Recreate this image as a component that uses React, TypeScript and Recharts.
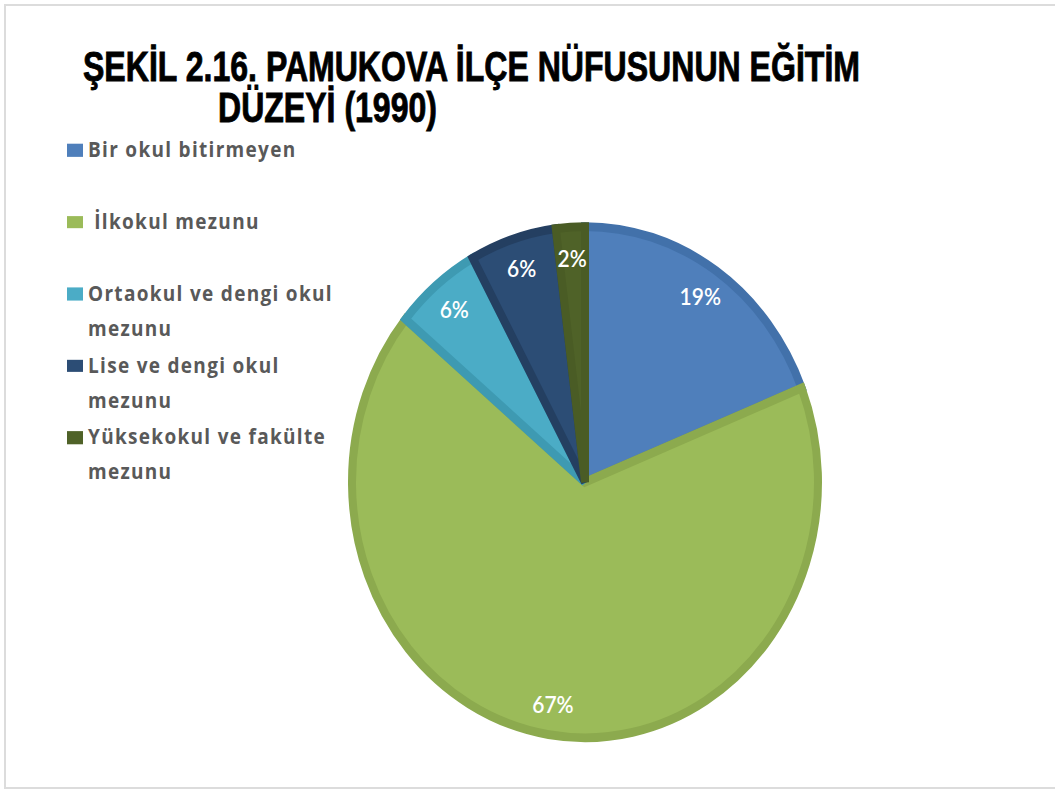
import React from 'react';
import { PieChart, Pie, Cell, Legend } from 'recharts';

const CATEGORIES = [
  'Bir okul bitirmeyen',
  ' İlkokul mezunu',
  'Ortaokul ve dengi okul mezunu',
  'Lise ve dengi okul mezunu',
  'Yüksekokul ve fakülte mezunu',
];
const PERCENTS = [19, 67, 6, 6, 2];
const COLORS = ['#4F7FBB', '#9BBB59', '#4BACC6', '#2C4D75', '#4F6228'];
const BORDERS = ['#4271AA', '#8CAA4E', '#3E9AB2', '#243F61', '#4A5C25'];

const TITLE_1 = 'ŞEKİL 2.16. PAMUKOVA İLÇE NÜFUSUNUN EĞİTİM';
const TITLE_2 = 'DÜZEYİ (1990)';

// the source image is stretched vertically, so the whole chart is drawn and then scaled
const SY = 1.097;

const data = CATEGORIES.map((name, i) => ({ name, value: PERCENTS[i] }));

const RAD = Math.PI / 180;

function renderLabel(props: any) {
  const { cx, cy, midAngle, outerRadius, percent } = props;
  const r = outerRadius * 0.88;
  const x = cx + r * Math.cos(-midAngle * RAD);
  const y = cy + r * Math.sin(-midAngle * RAD);
  return (
    <text
      x={x}
      y={y}
      fill="#fff"
      textAnchor="middle"
      dominantBaseline="central"
      fontSize={21}
      fontFamily="Lato, sans-serif"
      fontWeight={600}
    >
      {`${Math.round(percent * 100)}%`}
    </text>
  );
}

// legend keeps the data order (recharts sorts the payload by name otherwise)
function renderLegend() {
  return (
    <div>
      {CATEGORIES.map((name, i) => (
        <div key={name} style={{ display: 'flex', height: 65.6 }}>
          <div
            style={{
              width: 16,
              height: 11.5,
              marginTop: 11,
              background: COLORS[i],
              flex: 'none',
            }}
          />
          <div
            style={{
              marginLeft: 5,
              width: 262,
              fontFamily: '"Open Sans", sans-serif',
              fontWeight: 700,
              fontSize: 19,
              letterSpacing: 1.3,
              lineHeight: '32px',
              color: '#595959',
              whiteSpace: 'pre-wrap',
            }}
          >
            {name}
          </div>
        </div>
      ))}
    </div>
  );
}

export default function App() {
  return (
    <div style={{ position: 'absolute', left: 0, top: 0, width: 1055, height: 789, overflow: 'hidden', background: '#fff' }}>
      <div
        style={{
          position: 'absolute',
          left: 4,
          top: 4,
          width: 1100,
          height: 781,
          borderTop: '2px solid #dcdcdc',
          borderLeft: '2px solid #dcdcdc',
          borderBottom: '2px solid #dcdcdc',
        }}
      />
      <div
        style={{
          position: 'absolute',
          left: 0,
          top: 0,
          width: 1055,
          height: 719,
          transform: `scaleY(${SY})`,
          transformOrigin: '0 0',
        }}
      >
        <PieChart width={1055} height={719}>
          <Legend
            layout="vertical"
            align="center"
            verticalAlign="middle"
            wrapperStyle={{ left: 67, top: 120, width: 290 }}
            content={renderLegend}
          />
          <Pie
            data={data}
            dataKey="value"
            nameKey="name"
            cx={580}
            cy={434.5}
            outerRadius={233}
            startAngle={90}
            endAngle={-270}
            strokeWidth={8}
            labelLine={false}
            label={renderLabel}
            isAnimationActive={false}
          >
            {data.map((d, i) => (
              <Cell key={d.name} fill={COLORS[i]} stroke={BORDERS[i]} />
            ))}
          </Pie>
        </PieChart>
        <svg width={1055} height={140} style={{ position: 'absolute', left: 0, top: 0, pointerEvents: 'none' }}>
          <text
            x={83}
            y={74}
            fontFamily='"Liberation Sans", Arial, sans-serif'
            fontWeight={700}
            fontSize={38}
            fill="#000"
            stroke="#000"
            strokeWidth={0.8}
            textLength={777}
            lengthAdjust="spacingAndGlyphs"
          >
            {TITLE_1}
          </text>
          <text
            x={218}
            y={111}
            fontFamily='"Liberation Sans", Arial, sans-serif'
            fontWeight={700}
            fontSize={38}
            fill="#000"
            stroke="#000"
            strokeWidth={0.8}
            textLength={219}
            lengthAdjust="spacingAndGlyphs"
          >
            {TITLE_2}
          </text>
        </svg>
      </div>
    </div>
  );
}
